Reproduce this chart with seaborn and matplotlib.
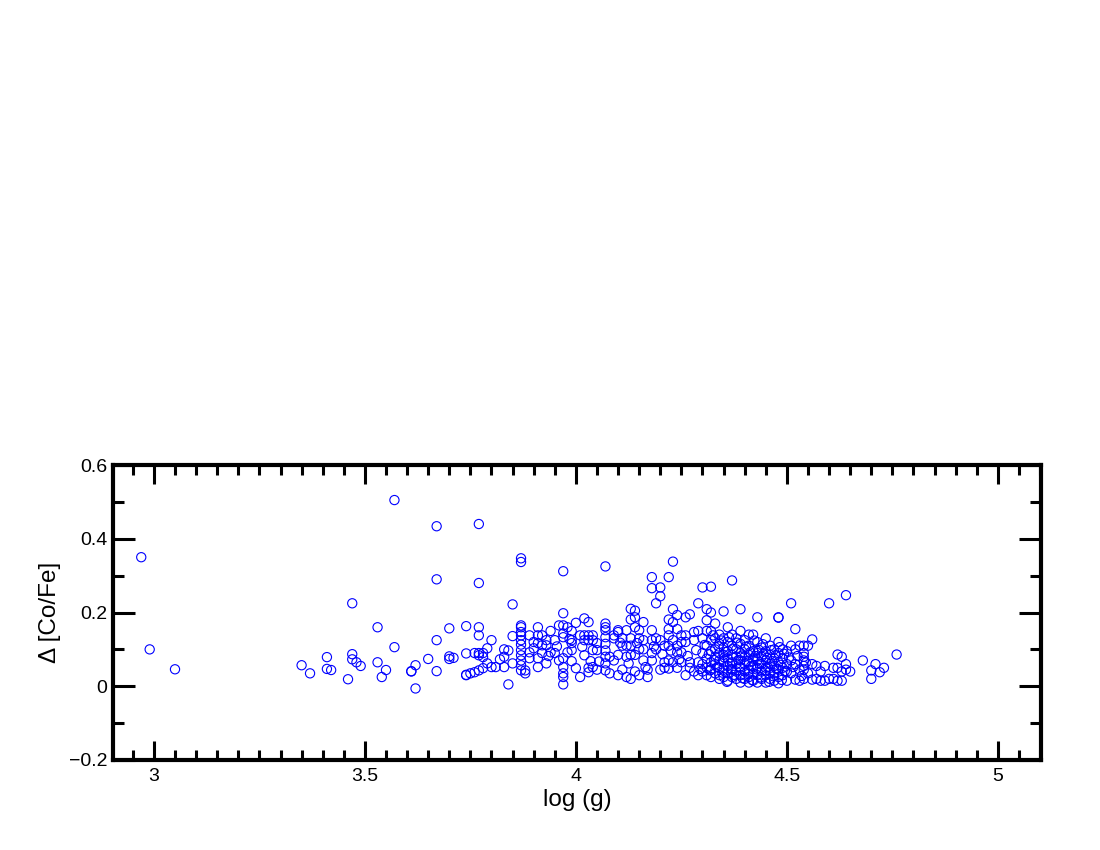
import pandas as pd
import matplotlib
matplotlib.use("Agg")
import matplotlib.pyplot as plt
from matplotlib.ticker import MultipleLocator
import seaborn as sns

# (log g, delta [Co/Fe]), grouped by gravity range
low_g = [
    (2.97, 0.350), (2.99, 0.100), (3.05, 0.046),
    (3.35, 0.057), (3.37, 0.035), (3.41, 0.079), (3.41, 0.047), (3.42, 0.044),
    (3.46, 0.019), (3.47, 0.225), (3.47, 0.087), (3.47, 0.073), (3.48, 0.065),
    (3.49, 0.055), (3.53, 0.160), (3.53, 0.065), (3.54, 0.025), (3.55, 0.044),
    (3.57, 0.505), (3.57, 0.106), (3.61, 0.041), (3.61, 0.040), (3.62, 0.057),
    (3.62, -0.006), (3.65, 0.074), (3.67, 0.434), (3.67, 0.290), (3.67, 0.125),
    (3.67, 0.041), (3.70, 0.157), (3.70, 0.081), (3.70, 0.074), (3.71, 0.077),
    (3.74, 0.163), (3.74, 0.089), (3.74, 0.030), (3.74, 0.031), (3.75, 0.035),
    (3.76, 0.038), (3.76, 0.090), (3.77, 0.440), (3.77, 0.280), (3.77, 0.160),
    (3.77, 0.138), (3.77, 0.084), (3.77, 0.090), (3.77, 0.043), (3.78, 0.090),
    (3.78, 0.079), (3.78, 0.049), (3.79, 0.103), (3.79, 0.062),
]

mid_g = [
    (3.80, 0.125), (3.80, 0.052), (3.81, 0.052), (3.82, 0.073), (3.83, 0.080),
    (3.83, 0.052), (3.83, 0.100), (3.84, 0.097), (3.84, 0.005), (3.85, 0.222),
    (3.85, 0.136), (3.85, 0.062), (3.87, 0.347), (3.87, 0.337), (3.87, 0.165),
    (3.87, 0.160), (3.87, 0.147), (3.87, 0.138), (3.87, 0.125), (3.87, 0.113),
    (3.87, 0.098), (3.87, 0.084), (3.87, 0.070), (3.87, 0.057), (3.87, 0.043),
    (3.88, 0.043), (3.88, 0.035), (3.89, 0.138), (3.89, 0.092), (3.89, 0.076),
    (3.90, 0.120), (3.90, 0.103), (3.91, 0.160), (3.91, 0.138), (3.91, 0.117),
    (3.91, 0.076), (3.91, 0.052), (3.92, 0.138), (3.92, 0.111), (3.92, 0.090),
    (3.93, 0.111), (3.93, 0.125), (3.93, 0.062), (3.94, 0.150), (3.94, 0.092),
    (3.95, 0.125), (3.95, 0.090), (3.96, 0.165), (3.96, 0.070), (3.97, 0.312),
    (3.97, 0.198), (3.97, 0.165), (3.97, 0.143), (3.97, 0.133), (3.97, 0.076),
    (3.97, 0.052), (3.97, 0.035), (3.97, 0.025), (3.97, 0.005), (3.98, 0.160),
    (3.98, 0.092), (3.99, 0.150), (3.99, 0.125), (3.99, 0.117), (3.99, 0.098),
    (3.99, 0.068), (4.00, 0.172), (4.00, 0.049), (4.01, 0.138), (4.01, 0.025),
    (4.02, 0.184), (4.02, 0.138), (4.02, 0.125), (4.02, 0.084), (4.03, 0.174),
    (4.03, 0.138), (4.03, 0.125), (4.03, 0.038), (4.03, 0.050), (4.04, 0.138),
    (4.04, 0.098), (4.04, 0.052), (4.04, 0.125), (4.05, 0.117), (4.05, 0.098),
    (4.05, 0.045), (4.07, 0.325), (4.07, 0.170), (4.07, 0.160), (4.07, 0.152),
    (4.07, 0.133), (4.07, 0.115), (4.07, 0.097), (4.07, 0.080), (4.07, 0.062),
    (4.07, 0.043), (4.08, 0.080), (4.08, 0.035), (4.09, 0.130), (4.09, 0.138),
    (4.09, 0.070), (3.935, 0.082), (3.955, 0.108), (3.985, 0.128),
    (4.015, 0.107), (4.035, 0.068), (4.055, 0.067),
]

high_g = [
    (4.10, 0.152), (4.10, 0.147), (4.10, 0.085), (4.10, 0.030), (4.11, 0.130),
    (4.11, 0.110), (4.11, 0.045), (4.12, 0.152), (4.12, 0.110), (4.12, 0.080),
    (4.12, 0.025), (4.13, 0.210), (4.13, 0.181), (4.13, 0.130), (4.13, 0.110),
    (4.13, 0.085), (4.13, 0.020), (4.14, 0.205), (4.14, 0.187), (4.14, 0.160),
    (4.14, 0.085), (4.14, 0.040), (4.15, 0.152), (4.15, 0.130), (4.15, 0.100),
    (4.15, 0.030), (4.16, 0.174), (4.16, 0.125), (4.16, 0.100), (4.16, 0.070),
    (4.17, 0.025), (4.17, 0.045), (4.18, 0.296), (4.18, 0.266), (4.18, 0.152),
    (4.18, 0.125), (4.18, 0.090), (4.18, 0.070), (4.19, 0.225), (4.19, 0.100),
    (4.19, 0.130), (4.20, 0.268), (4.20, 0.244), (4.20, 0.125), (4.20, 0.045),
    (4.21, 0.110), (4.21, 0.065), (4.21, 0.050), (4.22, 0.296), (4.22, 0.181),
    (4.22, 0.155), (4.22, 0.138), (4.22, 0.110), (4.22, 0.070), (4.22, 0.048),
    (4.23, 0.338), (4.23, 0.209), (4.23, 0.174), (4.23, 0.125), (4.23, 0.065),
    (4.24, 0.193), (4.24, 0.155), (4.24, 0.092), (4.24, 0.050), (4.24, 0.110),
    (4.25, 0.138), (4.25, 0.120), (4.25, 0.092), (4.25, 0.065), (4.26, 0.187),
    (4.26, 0.138), (4.26, 0.120), (4.26, 0.030), (4.27, 0.195), (4.27, 0.065),
    (4.27, 0.050), (4.28, 0.147), (4.28, 0.125), (4.28, 0.040), (4.29, 0.225),
    (4.29, 0.150), (4.29, 0.065), (4.29, 0.030), (4.105, 0.118), (4.125, 0.062),
    (4.145, 0.117), (4.165, 0.052), (4.185, 0.108), (4.205, 0.087),
    (4.225, 0.097), (4.245, 0.073), (4.265, 0.082), (4.285, 0.098),
    (4.295, 0.047),
]

dwarfs = [
    (4.30, 0.268), (4.30, 0.130), (4.30, 0.090), (4.30, 0.060), (4.30, 0.040),
    (4.31, 0.209), (4.31, 0.179), (4.31, 0.150), (4.31, 0.110), (4.31, 0.075),
    (4.31, 0.050), (4.31, 0.030), (4.32, 0.270), (4.32, 0.200), (4.32, 0.150),
    (4.32, 0.125), (4.32, 0.095), (4.32, 0.065), (4.32, 0.045), (4.32, 0.025),
    (4.33, 0.170), (4.33, 0.130), (4.33, 0.100), (4.33, 0.080), (4.33, 0.060),
    (4.33, 0.035), (4.34, 0.140), (4.34, 0.115), (4.34, 0.090), (4.34, 0.070),
    (4.34, 0.050), (4.34, 0.030), (4.34, 0.020), (4.35, 0.203), (4.35, 0.130),
    (4.35, 0.105), (4.35, 0.085), (4.35, 0.065), (4.35, 0.045), (4.35, 0.025),
    (4.36, 0.160), (4.36, 0.120), (4.36, 0.095), (4.36, 0.075), (4.36, 0.055),
    (4.36, 0.035), (4.36, 0.015), (4.37, 0.287), (4.37, 0.140), (4.37, 0.110),
    (4.37, 0.085), (4.37, 0.065), (4.37, 0.045), (4.37, 0.025), (4.38, 0.130),
    (4.38, 0.100), (4.38, 0.080), (4.38, 0.060), (4.38, 0.040), (4.38, 0.020),
    (4.39, 0.209), (4.39, 0.150), (4.39, 0.115), (4.39, 0.090), (4.39, 0.070),
    (4.39, 0.050), (4.39, 0.030), (4.39, 0.010), (4.40, 0.125), (4.40, 0.100),
    (4.40, 0.080), (4.40, 0.060), (4.40, 0.040), (4.40, 0.020), (4.41, 0.140),
    (4.41, 0.110), (4.41, 0.085), (4.41, 0.065), (4.41, 0.045), (4.41, 0.025),
    (4.41, 0.010), (4.42, 0.140), (4.42, 0.095), (4.42, 0.075), (4.42, 0.055),
    (4.42, 0.035), (4.42, 0.015), (4.43, 0.187), (4.43, 0.120), (4.43, 0.090),
    (4.43, 0.070), (4.43, 0.050), (4.43, 0.030), (4.43, 0.010), (4.44, 0.105),
    (4.44, 0.080), (4.44, 0.060), (4.44, 0.040), (4.44, 0.020), (4.45, 0.130),
    (4.45, 0.095), (4.45, 0.070), (4.45, 0.050), (4.45, 0.030), (4.45, 0.010),
    (4.46, 0.110), (4.46, 0.085), (4.46, 0.060), (4.46, 0.040), (4.46, 0.020),
    (4.47, 0.100), (4.47, 0.075), (4.47, 0.055), (4.47, 0.035), (4.47, 0.015),
    (4.48, 0.187), (4.48, 0.186), (4.48, 0.120), (4.48, 0.090), (4.48, 0.065),
    (4.48, 0.045), (4.48, 0.025), (4.48, 0.008), (4.49, 0.100), (4.49, 0.075),
    (4.49, 0.050), (4.49, 0.030), (4.50, 0.095), (4.50, 0.060), (4.50, 0.040),
    (4.50, 0.015), (4.51, 0.225), (4.51, 0.110), (4.51, 0.070), (4.51, 0.035),
    (4.52, 0.155), (4.52, 0.100), (4.52, 0.060), (4.52, 0.018), (4.53, 0.110),
    (4.53, 0.045), (4.53, 0.015), (4.54, 0.110), (4.54, 0.090), (4.54, 0.080),
    (4.54, 0.070), (4.54, 0.055), (4.54, 0.045), (4.54, 0.020), (4.55, 0.110),
    (4.55, 0.035), (4.56, 0.127), (4.56, 0.060), (4.56, 0.018), (4.57, 0.055),
    (4.57, 0.020), (4.58, 0.040), (4.58, 0.015), (4.59, 0.055), (4.59, 0.015),
    (4.60, 0.225), (4.60, 0.020), (4.61, 0.050), (4.61, 0.020), (4.62, 0.086),
    (4.62, 0.050), (4.62, 0.015), (4.63, 0.080), (4.63, 0.040), (4.63, 0.015),
    (4.64, 0.247), (4.64, 0.060), (4.64, 0.045), (4.65, 0.040), (4.68, 0.070),
    (4.70, 0.043), (4.70, 0.020), (4.71, 0.060), (4.72, 0.038), (4.73, 0.050),
    (4.76, 0.086),
]

dwarfs_fill = [
    (4.305, 0.112), (4.315, 0.087), (4.318, 0.043), (4.325, 0.138),
    (4.327, 0.071), (4.335, 0.052), (4.338, 0.108), (4.345, 0.124),
    (4.347, 0.037), (4.352, 0.078), (4.355, 0.093), (4.358, 0.012),
    (4.363, 0.133), (4.365, 0.062), (4.368, 0.047), (4.372, 0.102),
    (4.375, 0.031), (4.383, 0.118), (4.385, 0.071), (4.388, 0.053),
    (4.393, 0.083), (4.395, 0.022), (4.403, 0.107), (4.405, 0.068),
    (4.408, 0.033), (4.413, 0.092), (4.415, 0.054), (4.418, 0.017),
    (4.423, 0.124), (4.425, 0.082), (4.428, 0.046), (4.433, 0.099),
    (4.435, 0.061), (4.438, 0.024), (4.443, 0.114), (4.445, 0.087),
    (4.448, 0.043), (4.453, 0.077), (4.455, 0.052), (4.458, 0.012),
    (4.463, 0.098), (4.465, 0.068), (4.468, 0.027), (4.473, 0.084),
    (4.475, 0.047), (4.483, 0.106), (4.485, 0.058), (4.488, 0.017),
    (4.493, 0.088), (4.495, 0.041), (4.505, 0.078), (4.515, 0.052),
    (4.525, 0.082), (4.535, 0.028), (4.545, 0.064),
]

df = pd.DataFrame(low_g + mid_g + high_g + dwarfs + dwarfs_fill,
                  columns=["logg", "dcofe"])

sns.set_style("white")
plt.rcParams["font.family"] = ["Liberation Sans", "DejaVu Sans"]
plt.rcParams["text.color"] = "black"
plt.rcParams["axes.labelcolor"] = "black"
plt.rcParams["xtick.color"] = "black"
plt.rcParams["ytick.color"] = "black"

fig = plt.figure(figsize=(11, 8.5), dpi=100)
ax = fig.add_axes([0.1027, 0.1059, 0.8436, 0.347])

sns.scatterplot(data=df, x="logg", y="dcofe", ax=ax, marker="o",
                facecolors="none", edgecolor="blue", linewidth=0.8, s=44)

ax.set_xlim(2.903, 5.102)
ax.set_ylim(-0.2, 0.6)
ax.xaxis.set_major_locator(MultipleLocator(0.5))
ax.xaxis.set_minor_locator(MultipleLocator(0.05))
ax.yaxis.set_major_locator(MultipleLocator(0.2))
ax.yaxis.set_minor_locator(MultipleLocator(0.1))
ax.xaxis.set_major_formatter(plt.FuncFormatter(lambda v, p: f"{v:g}"))
ax.yaxis.set_major_formatter(plt.FuncFormatter(lambda v, p: f"{v:g}".replace("-", "\u2212")))

for sp in ax.spines.values():
    sp.set_visible(True)
    sp.set_color("black")
    sp.set_linewidth(3)

ax.tick_params(axis="x", which="major", direction="in", length=14, width=2.2,
               top=True, bottom=True, labelsize=14, pad=6, colors="black")
ax.tick_params(axis="x", which="minor", direction="in", length=7, width=2.2,
               top=True, bottom=True, colors="black")
ax.tick_params(axis="y", which="major", direction="in", length=16, width=2.2,
               left=True, right=True, labelsize=14, pad=4, colors="black")
ax.tick_params(axis="y", which="minor", direction="in", length=8, width=2.2,
               left=True, right=True, colors="black")

ax.set_xlabel("log (g)", fontsize=17.5, labelpad=3)
ax.set_ylabel("\u0394 [Co/Fe]", fontsize=17.5, labelpad=6)

fig.savefig("out.png", dpi=100, facecolor="white")
